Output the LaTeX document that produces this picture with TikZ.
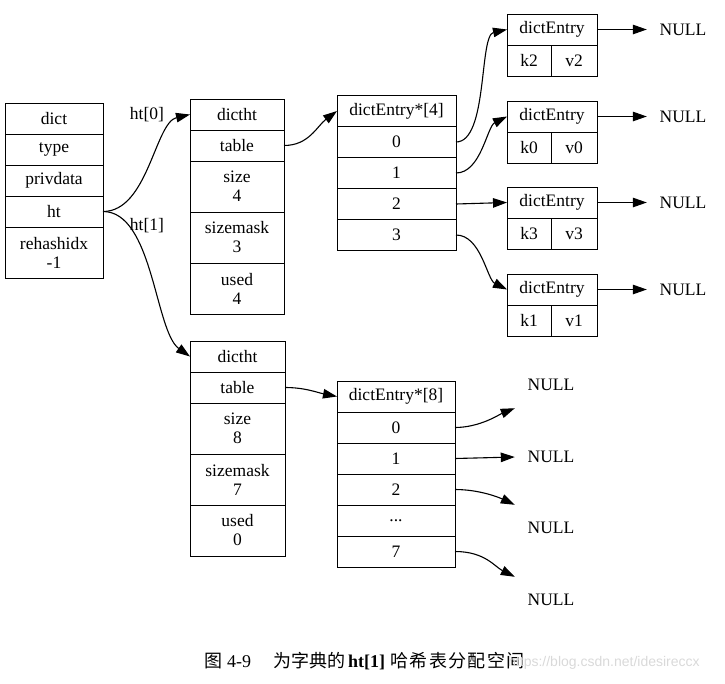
\documentclass[tikz,border=0pt]{standalone}
\usepackage{fontspec}
\setmainfont{Liberation Serif}
\newfontfamily\cjk{Noto Sans CJK SC}
\newfontfamily\wmark{Liberation Sans}
\usetikzlibrary{positioning,arrows.meta}

\begin{document}
\begin{tikzpicture}[x=1pt,y=-1pt,
    every node/.style={font=\fontsize{17.5}{19}\selectfont},
    cell/.style={draw, line width=1pt, inner sep=0pt, outer sep=0pt, align=center,
      minimum height=31pt, minimum width=#1},
    tall/.style={minimum height=51pt},
    nul/.style={inner sep=0pt, minimum width=72pt, minimum height=46pt},
    link/.style={-{Triangle[length=14pt,width=9.5pt]}, line width=1.1pt}]
    \useasboundingbox (0,0) rectangle (725,683);

    % dict
    \node[cell=98pt] (dict) at (54,118.5) {dict};
    \node[cell=98pt, below=0pt of dict] (type) {type};
    \node[cell=98pt, below=0pt of type] (privdata) {privdata};
    \node[cell=98pt, below=0pt of privdata] (ht) {ht};
    \node[cell=98pt, tall, below=0pt of ht] (rehash) {rehashidx\\-1};

    % ht[0]
    \node[cell=94pt] (dictht0) at (237,114.5) {dictht};
    \node[cell=94pt, below=0pt of dictht0] (table0) {table};
    \node[cell=94pt, tall, below=0pt of table0] (size0) {size\\4};
    \node[cell=94pt, tall, below=0pt of size0] (mask0) {sizemask\\3};
    \node[cell=94pt, tall, below=0pt of mask0] (used0) {used\\4};

    % ht[1]
    \node[cell=95pt] (dictht1) at (237.5,356.5) {dictht};
    \node[cell=95pt, below=0pt of dictht1] (table1) {table};
    \node[cell=95pt, tall, below=0pt of table1] (size1) {size\\8};
    \node[cell=95pt, tall, below=0pt of size1] (mask1) {sizemask\\7};
    \node[cell=95pt, tall, below=0pt of mask1] (used1) {used\\0};

    \node (lab0) at (147,115) {ht[0]};
    \node (lab1) at (147,226) {ht[1]};

    % dictEntry*[4]
    \node[cell=119pt] (arr0) at (396.5,111) {dictEntry*[4]};
    \node[cell=119pt, below=0pt of arr0] (s0) {0};
    \node[cell=119pt, below=0pt of s0] (s1) {1};
    \node[cell=119pt, below=0pt of s1] (s2) {2};
    \node[cell=119pt, below=0pt of s2] (s3) {3};

    % dictEntry*[8]
    \node[cell=118pt] (arr1) at (396,396.5) {dictEntry*[8]};
    \node[cell=118pt, below=0pt of arr1] (b0) {0};
    \node[cell=118pt, below=0pt of b0] (b1) {1};
    \node[cell=118pt, below=0pt of b1] (b2) {2};
    \node[cell=118pt, below=0pt of b2] (bdots) {...};
    \node[cell=118pt, below=0pt of bdots] (b7) {7};

    % entries
    \node[cell=90pt] (ent0) at (552,29.5) {dictEntry};
    \node[cell=44pt, anchor=north west] (k2) at (ent0.south west) {k2};
    \node[cell=46pt, anchor=north east] (v2) at (ent0.south east) {v2};
    \node[cell=90pt] (ent1) at (552,116.5) {dictEntry};
    \node[cell=44pt, anchor=north west] (k0) at (ent1.south west) {k0};
    \node[cell=46pt, anchor=north east] (v0) at (ent1.south east) {v0};
    \node[cell=90pt] (ent2) at (552,202.5) {dictEntry};
    \node[cell=44pt, anchor=north west] (k3) at (ent2.south west) {k3};
    \node[cell=46pt, anchor=north east] (v3) at (ent2.south east) {v3};
    \node[cell=90pt] (ent3) at (552,289.5) {dictEntry};
    \node[cell=44pt, anchor=north west] (k1) at (ent3.south west) {k1};
    \node[cell=46pt, anchor=north east] (v1) at (ent3.south east) {v1};

    \node[nul] (null0) at (683,29.5) {NULL};
    \node[nul] (null1) at (683,116.5) {NULL};
    \node[nul] (null2) at (683,202.5) {NULL};
    \node[nul] (null3) at (683,289.5) {NULL};

    \node[nul] (nb0) at (551,385) {NULL};
    \node[nul] (nb1) at (551,457) {NULL};
    \node[nul] (nb2) at (551,528) {NULL};
    \node[nul] (nb7) at (551,600) {NULL};

    \draw[link] (ht.east) .. controls +(45,0) and +(-35,8) .. (dictht0.west);
    \draw[link] (ht.east) .. controls +(50,0) and +(-35,-25) .. (dictht1.west);
    \draw[link] (table0.east) .. controls +(25,0) and +(-20,15) .. (arr0.west);
    \draw[link] (table1.east) .. controls +(20,0) and +(-20,-4) .. (arr1.west);

    \draw[link] (s0.east) .. controls +(32,0) and +(-28,6) .. (ent0.west);
    \draw[link] (s1.east) .. controls +(25,0) and +(-20,10) .. (ent1.west);
    \draw[link] (s2.east) -- (ent2.west);
    \draw[link] (s3.east) .. controls +(25,0) and +(-20,-10) .. (ent3.west);

    \draw[link] (ent0.east) -- (null0.west);
    \draw[link] (ent1.east) -- (null1.west);
    \draw[link] (ent2.east) -- (null2.west);
    \draw[link] (ent3.east) -- (null3.west);

    \draw[link] (b0.east) .. controls +(25,0) and +(-15,6) .. (nb0.south west);
    \draw[link] (b1.east) -- (nb1.west);
    \draw[link] (b2.east) .. controls +(25,0) and +(-15,-7) .. (nb2.north west);
    \draw[link] (b7.east) .. controls +(30,0) and +(-20,-10) .. (nb7.north west);

    % caption
    \node[anchor=west, inner sep=0pt, font=\fontsize{18}{20}\selectfont] (caption) at (204,661)
      {{\cjk 图}\hspace{5pt}4-9\hspace{22pt}{\cjk 为字典的}\hspace{3pt}\textbf{ht[1]}\hspace{5pt}{\cjk\addfontfeatures{LetterSpace=8} 哈希表分配空间}};
    \node[anchor=west, inner sep=0pt, font=\wmark\fontsize{14}{18}\selectfont, text=gray!30] (wmark) at (508,663)
      {https://blog.csdn.net/idesireccx};
\end{tikzpicture}
\end{document}
